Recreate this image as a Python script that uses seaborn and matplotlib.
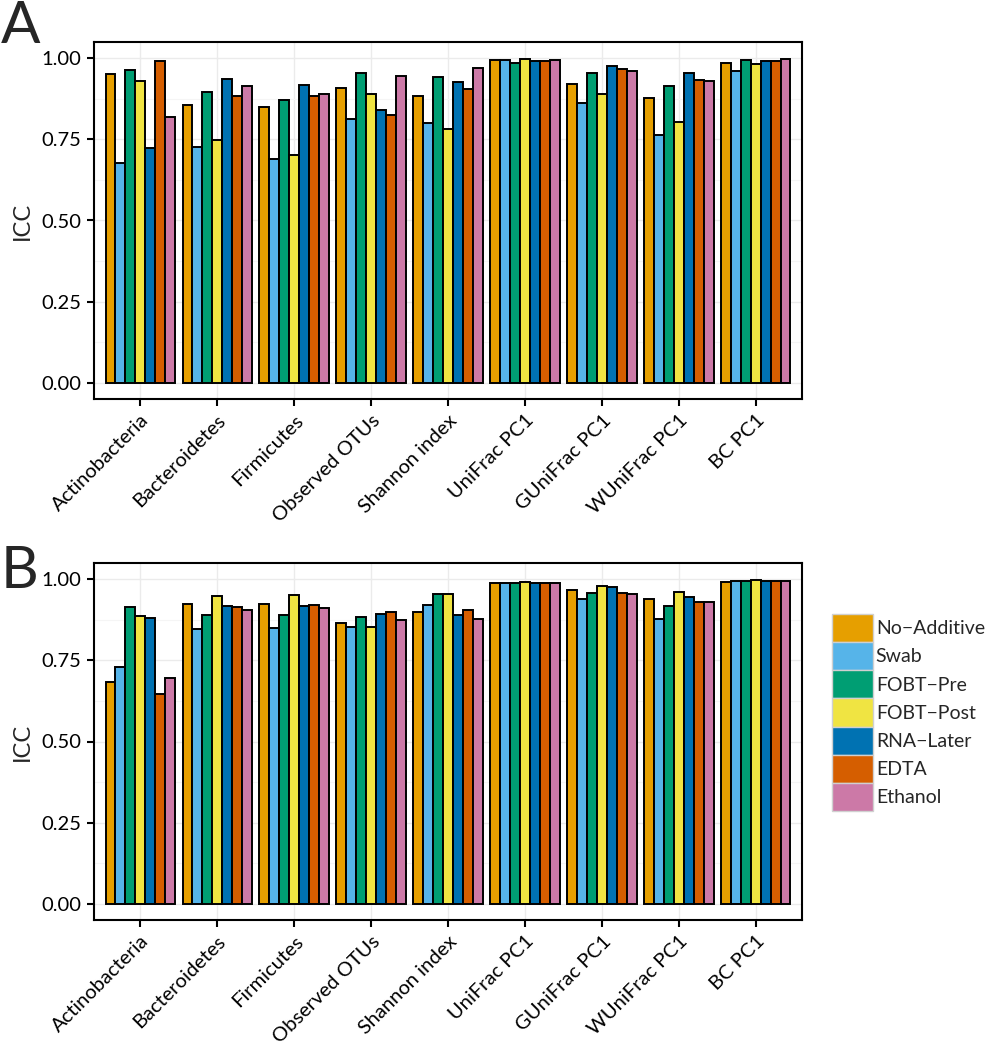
import numpy as np
import pandas as pd
import matplotlib
matplotlib.use("Agg")
import matplotlib.pyplot as plt
import seaborn as sns
from matplotlib.patches import Patch

metrics = ["Actinobacteria", "Bacteroidetes", "Firmicutes", "Observed OTUs",
           "Shannon index", "UniFrac PC1", "GUniFrac PC1", "WUniFrac PC1", "BC PC1"]
methods = ["No\u2212Additive", "Swab", "FOBT\u2212Pre", "FOBT\u2212Post",
           "RNA\u2212Later", "EDTA", "Ethanol"]
colors = ["#E69F00", "#56B4E9", "#009E73", "#F0E442", "#0072B2", "#D55E00", "#CC79A7"]

# Panel A values: rows = metrics, cols = methods
icc_a = [
    [0.951, 0.677, 0.963, 0.930, 0.723, 0.990, 0.818],
    [0.856, 0.727, 0.896, 0.747, 0.935, 0.884, 0.913],
    [0.851, 0.688, 0.872, 0.702, 0.918, 0.884, 0.891],
    [0.909, 0.813, 0.954, 0.889, 0.840, 0.825, 0.946],
    [0.885, 0.799, 0.943, 0.782, 0.927, 0.905, 0.971],
    [0.995, 0.996, 0.986, 0.998, 0.992, 0.991, 0.996],
    [0.922, 0.863, 0.955, 0.890, 0.975, 0.967, 0.962],
    [0.877, 0.764, 0.914, 0.803, 0.954, 0.933, 0.929],
    [0.986, 0.962, 0.996, 0.982, 0.992, 0.992, 0.998],
]
# Panel B values
icc_b = [
    [0.683, 0.731, 0.914, 0.887, 0.880, 0.646, 0.695],
    [0.923, 0.846, 0.891, 0.948, 0.918, 0.914, 0.906],
    [0.924, 0.850, 0.891, 0.950, 0.918, 0.922, 0.910],
    [0.865, 0.854, 0.883, 0.853, 0.892, 0.898, 0.874],
    [0.898, 0.922, 0.955, 0.954, 0.890, 0.906, 0.877],
    [0.988, 0.988, 0.988, 0.991, 0.988, 0.988, 0.988],
    [0.968, 0.938, 0.959, 0.979, 0.975, 0.958, 0.956],
    [0.939, 0.876, 0.916, 0.962, 0.944, 0.929, 0.930],
    [0.991, 0.995, 0.996, 0.997, 0.994, 0.993, 0.995],
]


def to_long(vals):
    rows = []
    for i, m in enumerate(metrics):
        for j, meth in enumerate(methods):
            rows.append({"metric": m, "method": meth, "icc": vals[i][j]})
    return pd.DataFrame(rows)


sns.set_theme(style="white")
plt.rcParams["font.family"] = ["Lato", "DejaVu Sans"]

W, H = 986, 1050
fig = plt.figure(figsize=(W / 100, H / 100), dpi=100)
fig.patch.set_facecolor("white")

positions = {
    "A": [94 / W, 1 - 399 / H, 708 / W, 357 / H],
    "B": [94 / W, 1 - 920 / H, 708 / W, 357 / H],
}
datasets = {"A": icc_a, "B": icc_b}
letter_base = {"A": 43, "B": 588}

for key in ["A", "B"]:
    ax = fig.add_axes(positions[key])
    df = to_long(datasets[key])
    sns.barplot(data=df, x="metric", y="icc", hue="method", hue_order=methods,
                order=metrics, palette=colors, width=0.9, gap=0,
                edgecolor="black", linewidth=1.4, ax=ax, legend=False,
                errorbar=None, saturation=1, zorder=3)
    ax.set_xlim(-0.6, len(metrics) - 0.4)
    ax.set_ylim(-0.05, 1.05)
    ax.set_yticks([0, 0.25, 0.5, 0.75, 1.0])
    ax.set_yticklabels(["0.00", "0.25", "0.50", "0.75", "1.00"], fontsize=14.5)
    ax.set_yticks([0.125, 0.375, 0.625, 0.875], minor=True)
    ax.set_xticks(range(len(metrics)))
    ax.set_xticklabels(metrics, rotation=45, ha="right", rotation_mode="anchor",
                       fontsize=14.5)
    ax.set_xlabel("")
    ax.set_ylabel("ICC", fontsize=17, labelpad=6)
    ax.grid(True, which="major", color="#EBEBEB", linewidth=1.0, zorder=0)
    ax.grid(True, which="minor", axis="y", color="#F5F5F5", linewidth=0.8, zorder=0)
    ax.set_axisbelow(True)
    for s in ax.spines.values():
        s.set_color("black")
        s.set_linewidth(1.5)
    ax.tick_params(axis="both", which="major", direction="out", length=5,
                   width=1.5, color="black", labelcolor="black", pad=4,
                   bottom=True, left=True)
    ax.tick_params(axis="both", which="minor", length=0)
    fig.text(1 / W, 1 - letter_base[key] / H, key, fontsize=42,
             va="baseline", ha="left")

handles = [Patch(facecolor=c, edgecolor="#D0D0D0", linewidth=1.0) for c in colors]
fig.legend(handles, methods, loc="upper left",
           bbox_to_anchor=(832 / W, 1 - 614 / H), frameon=False, fontsize=14,
           handlelength=2.1, handleheight=1.85, labelspacing=0.0,
           handletextpad=0.15, borderaxespad=0, borderpad=0)

fig.savefig("out.png", dpi=100, facecolor="white")
